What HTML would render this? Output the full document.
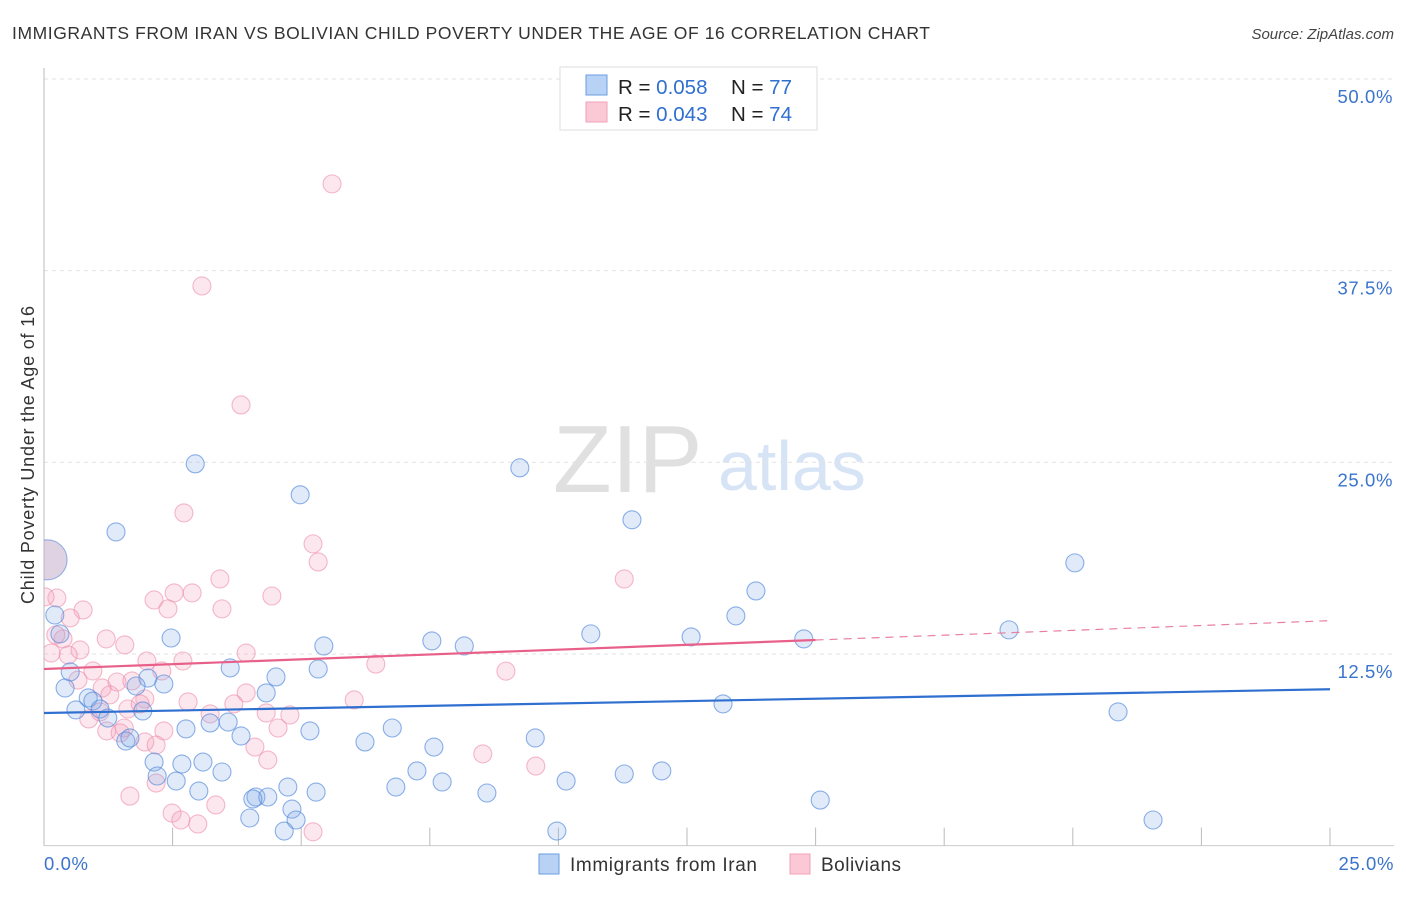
<!DOCTYPE html>
<html><head><meta charset="utf-8"><style>
body{margin:0;background:#fff;font-family:"Liberation Sans",sans-serif;}
svg text{font-family:"Liberation Sans",sans-serif;}
</style></head><body>
<svg id="chart" width="1406" height="892" xmlns="http://www.w3.org/2000/svg">
<text x="12" y="39" font-size="17.5" fill="#333" textLength="918" lengthAdjust="spacing">IMMIGRANTS FROM IRAN VS BOLIVIAN CHILD POVERTY UNDER THE AGE OF 16 CORRELATION CHART</text>
<text x="1394" y="39" font-size="15" fill="#444" text-anchor="end" font-style="italic">Source: ZipAtlas.com</text>
<text transform="translate(34,455) rotate(-90)" font-size="18" fill="#333" text-anchor="middle" textLength="298" lengthAdjust="spacing">Child Poverty Under the Age of 16</text>
<g><text x="553" y="492" font-size="96" fill="#e0e0e0" font-family="Liberation Serif">ZIP</text><text x="718" y="490" font-size="70" fill="#d6e4f5">atlas</text></g>
<g id="grid"></g>
<svg x="44" y="0" width="1362" height="892" viewBox="44 0 1362 892" overflow="hidden"><g id="pts"></g></svg>
<g id="trend"></g>
<g>
<rect x="560" y="67" width="257" height="63" fill="#fff" stroke="#ddd"/>
<rect x="586" y="75" width="21" height="20" fill="#b8d2f5" stroke="#6a9ee0"/>
<rect x="586" y="102" width="21" height="20" fill="#fbc8d6" stroke="#f0a0b8"/>
<text x="618" y="94" font-size="20.5" fill="#222">R = <tspan fill="#2f6fd0">0.058</tspan><tspan x="731">N = </tspan><tspan fill="#2f6fd0">77</tspan></text>
<text x="618" y="121" font-size="20.5" fill="#222">R = <tspan fill="#2f6fd0">0.043</tspan><tspan x="731">N = </tspan><tspan fill="#2f6fd0">74</tspan></text>
</g>
<g>
<rect x="539" y="854" width="20" height="20" fill="#b8d2f5" stroke="#6a9ee0"/>
<text x="570" y="871" font-size="19" fill="#333" textLength="187" lengthAdjust="spacing">Immigrants from Iran</text>
<rect x="790" y="854" width="20" height="20" fill="#fbc8d6" stroke="#f0a0b8"/>
<text x="821" y="871" font-size="19" fill="#333" textLength="80" lengthAdjust="spacing">Bolivians</text>
</g>
</svg>
<script>
const yTicks=[12.5,25,37.5,50];
const yTickLabels=["12.5%","25.0%","37.5%","50.0%"];
const xTicks=[0,2.5,5,7.5,10,12.5,15,17.5,20,22.5,25];
const blueX=[2.94,9.25,11.43,4.98,1.40,20.04,13.84,13.45,18.76,10.63,12.58,14.77,7.54,8.17,5.44,2.47,0.21,0.31,3.62,5.33,4.51,2.02,2.33,1.79,0.41,4.32,0.86,0.62,0.95,1.09,1.24,1.92,3.23,3.58,2.76,3.83,5.17,6.77,6.24,7.58,9.55,1.59,1.67,13.2,20.88,2.14,2.68,3.09,3.46,2.2,2.57,3.01,4.74,5.29,7.25,7.74,6.84,8.61,10.15,11.28,12.01,4.12,4.35,4.06,4.82,4.0,4.67,4.9,9.97,15.09,21.56,0.51];
const blueY=[24.9,24.64,21.25,22.88,20.46,18.44,16.61,14.98,14.07,13.81,13.61,13.48,13.35,13.02,13.02,13.54,15.04,13.81,11.59,11.52,11.0,10.93,10.54,10.41,10.28,9.96,9.63,8.85,9.43,8.91,8.32,8.78,8.0,8.06,7.61,7.15,7.48,7.67,6.76,6.43,7.02,6.82,7.02,9.24,8.72,5.45,5.32,5.45,4.8,4.54,4.21,3.56,3.82,3.49,4.87,4.15,3.82,3.43,4.21,4.67,4.87,3.17,3.17,3.04,2.38,1.8,0.95,1.67,0.95,2.97,1.67,11.33];
const pinkX=[5.6,3.07,3.83,2.72,5.23,5.33,3.42,11.28,4.43,2.14,2.53,2.88,2.41,3.46,0.76,0.25,0.02,0.51,1.21,1.57,0.37,0.7,0.14,0.47,3.93,6.45,8.98,2.0,2.7,2.29,0.95,0.66,1.42,1.71,1.13,1.28,1.96,2.8,3.93,6.03,1.63,1.87,0.87,1.09,1.56,3.23,3.69,4.32,4.78,2.33,1.22,1.48,1.96,2.18,4.1,4.55,4.35,8.53,9.56,1.67,2.18,2.49,2.66,2.99,3.34,5.23,0.23];
const pinkY=[43.16,36.5,28.74,21.7,19.68,18.5,17.39,17.39,16.28,16.02,16.48,16.48,15.44,15.44,15.37,16.15,16.22,14.85,13.48,13.09,13.48,12.76,12.56,12.43,12.56,11.84,11.38,12.04,12.04,11.39,11.39,10.8,10.67,10.74,10.28,9.83,9.57,9.37,9.96,9.5,8.91,9.24,8.26,8.72,7.67,8.59,9.24,8.65,8.52,7.48,7.48,7.35,6.76,6.56,6.43,7.67,5.58,5.98,5.19,3.23,4.08,2.12,1.67,1.41,2.65,0.9,13.74];
const bigPoint=[0.06,18.64];
const blueTrend=[8.65,10.2];
const pinkTrend=[11.52,14.67];
const pinkSolidEnd=15;
const NS="http://www.w3.org/2000/svg";
const X0=44,X1=1330,Y0=845.6,Y50=79;
const xs=v=>X0+(v/25)*(X1-X0);
const ys=v=>Y0-(v/50)*(Y0-Y50);
function mk(tag,attrs,parent){const e=document.createElementNS(NS,tag);for(const k in attrs)e.setAttribute(k,attrs[k]);parent.appendChild(e);return e;}
const grid=document.getElementById('grid');
yTicks.forEach((t,i)=>{
  const l=mk('line',{x1:X0,x2:1394,y1:ys(t),y2:ys(t),stroke:'#e2e2e2','stroke-dasharray':'4,4'},grid);
  
  
  const tx=mk('text',{x:1393,y:ys(t)+24,'font-size':18.5,fill:'#3a74cc','text-anchor':'end','letter-spacing':'0.6'},grid);
  tx.textContent=yTickLabels[i];
  
  
});
const bx=mk('line',{x1:X0,x2:1394,y1:Y0,y2:Y0,stroke:'#ccc'},grid);


xTicks.forEach(t=>{
  const l=mk('line',{x1:xs(t),x2:xs(t),y1:Y0-18,y2:Y0,stroke:'#bbb'},grid);
  
  
});
const xl0=mk('text',{x:44,y:870,'font-size':18.5,fill:'#3a74cc','letter-spacing':'0.6'},grid);xl0.textContent='0.0%';


const xl1=mk('text',{x:1394,y:870,'font-size':18.5,fill:'#3a74cc','text-anchor':'end','letter-spacing':'0.6'},grid);xl1.textContent='25.0%';


const pts=document.getElementById('pts');
pinkX.forEach((v,i)=>{
  const c=mk('circle',{cx:xs(v),cy:ys(pinkY[i]),r:9,fill:'rgba(244,160,186,0.25)',stroke:'rgba(236,140,168,0.6)','stroke-width':1.1},pts);
  
  
});
blueX.forEach((v,i)=>{
  const c=mk('circle',{cx:xs(v),cy:ys(blueY[i]),r:9,fill:'rgba(130,172,232,0.25)',stroke:'rgba(80,135,220,0.65)','stroke-width':1.1},pts);
  
  
});
const bp=mk('circle',{cx:xs(bigPoint[0]),cy:ys(bigPoint[1]),r:20,fill:'rgba(190,165,200,0.5)',stroke:'rgba(110,150,220,0.7)','stroke-width':1.1},pts);


const ax=mk('line',{x1:X0,x2:X0,y1:68,y2:Y0,stroke:'#bbb'},grid);


const tr=document.getElementById('trend');
const b=mk('line',{x1:xs(0),x2:xs(25),y1:ys(blueTrend[0]),y2:ys(blueTrend[1]),stroke:'#2f6fd0','stroke-width':2.2},tr);


const pAt=x=>pinkTrend[0]+(pinkTrend[1]-pinkTrend[0])*x/25;
const p1=mk('line',{x1:xs(0),x2:xs(pinkSolidEnd),y1:ys(pAt(0)),y2:ys(pAt(pinkSolidEnd)),stroke:'#e8608a','stroke-width':2.2},tr);


const p2=mk('line',{x1:xs(pinkSolidEnd),x2:xs(25),y1:ys(pAt(pinkSolidEnd)),y2:ys(pAt(25)),stroke:'#e8809f','stroke-width':1.2,'stroke-dasharray':'8,6'},tr);


</script>
</body></html>
